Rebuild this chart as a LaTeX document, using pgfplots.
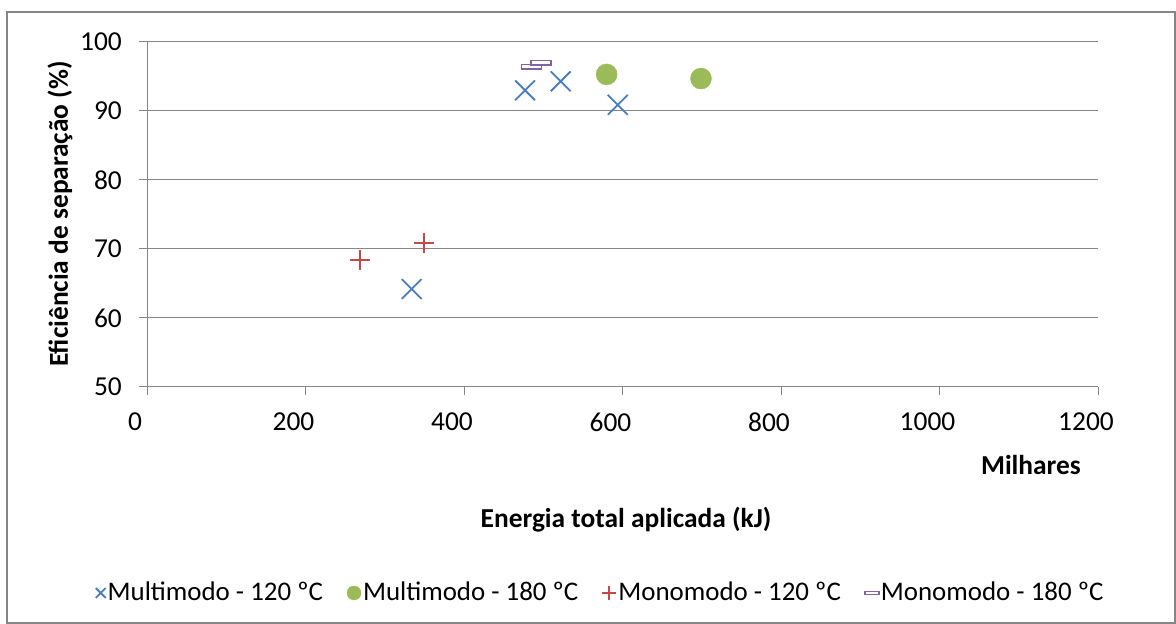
\documentclass[border=0pt]{standalone}
\usepackage{pgfplots}
\pgfplotsset{compat=1.18}
\usepackage{fontspec}
\setmainfont{Carlito}
\definecolor{cblue}{HTML}{4A7EBB}
\definecolor{cgreen}{HTML}{9BBB59}
\definecolor{cred}{HTML}{BE4B48}
\definecolor{cpurple}{HTML}{8064A2}
\definecolor{cgrid}{HTML}{868686}
\begin{document}
\fontsize{27}{32}\selectfont
\begin{tikzpicture}[x=1bp,y=1bp]
\useasboundingbox (0,0) rectangle (1176,624);
\draw[cgrid, line width=1.2bp] (7,1) rectangle (1175,612);
\begin{axis}[
  at={(147bp,237bp)}, anchor=south west,
  scale only axis, width=951bp, height=345bp,
  xmin=0, xmax=1200, ymin=50, ymax=100,
  xtick={0,200,...,1200}, ytick={50,60,...,100},
  axis line style={cgrid, line width=1bp},
  axis x line*=bottom, axis y line*=left,
  ymajorgrids, grid style={cgrid, line width=1bp},
  tick style={cgrid, line width=1bp},
  tick align=outside, major tick length=8bp,
  /pgf/number format/assume math mode=true,
  /pgf/number format/set thousands separator={},
  xticklabel style={font=\fontsize{27.5}{32}\selectfont, xshift=-12bp, yshift=-9bp},
  yticklabel style={font=\fontsize{27.5}{32}\selectfont, xshift=-8bp},
  legend style={at={(axis description cs:0.477,-0.597)}, anchor=center,
    draw=none, fill=none, legend columns=4, font=\fontsize{27}{32}\selectfont,
    /tikz/every even column/.append style={column sep=22bp}},
  legend cell align=left,
  legend image code/.code={\draw[#1, mark size=7bp] plot coordinates {(0bp,0bp)};},
]
\addplot[only marks, mark=x, mark size=14bp, color=cblue, line width=1.8bp]
  coordinates {(334,64.2) (477,93.0) (522,94.3) (594,90.9)};
\addlegendentry{Multimodo - 120 ºC}
\addplot[only marks, mark=*, mark size=10.5bp, color=cgreen]
  coordinates {(580,95.3) (699,94.7)};
\addlegendentry{Multimodo - 180 ºC}
\addplot[only marks, mark=+, mark size=10bp, color=cred, line width=1.8bp]
  coordinates {(269,68.4) (350,70.9)};
\addlegendentry{Monomodo - 120 ºC}
\addplot[only marks, mark=square, mark size=10bp, color=cpurple, line width=1.4bp,
  mark options={yscale=0.22}]
  coordinates {(485,96.4) (497,97.0)};
\addlegendentry{Monomodo - 180 ºC}
\end{axis}
\node[anchor=east, font=\bfseries\fontsize{27.5}{32}\selectfont] at (1090,159) {Milhares};
\node[font=\bfseries\fontsize{27.5}{32}\selectfont] at (626,104) {Energia total aplicada (kJ)};
\node[font=\bfseries\fontsize{27.5}{32}\selectfont, rotate=90] at (60,410) {Eficiência de separação (\%)};
\end{tikzpicture}
\end{document}
